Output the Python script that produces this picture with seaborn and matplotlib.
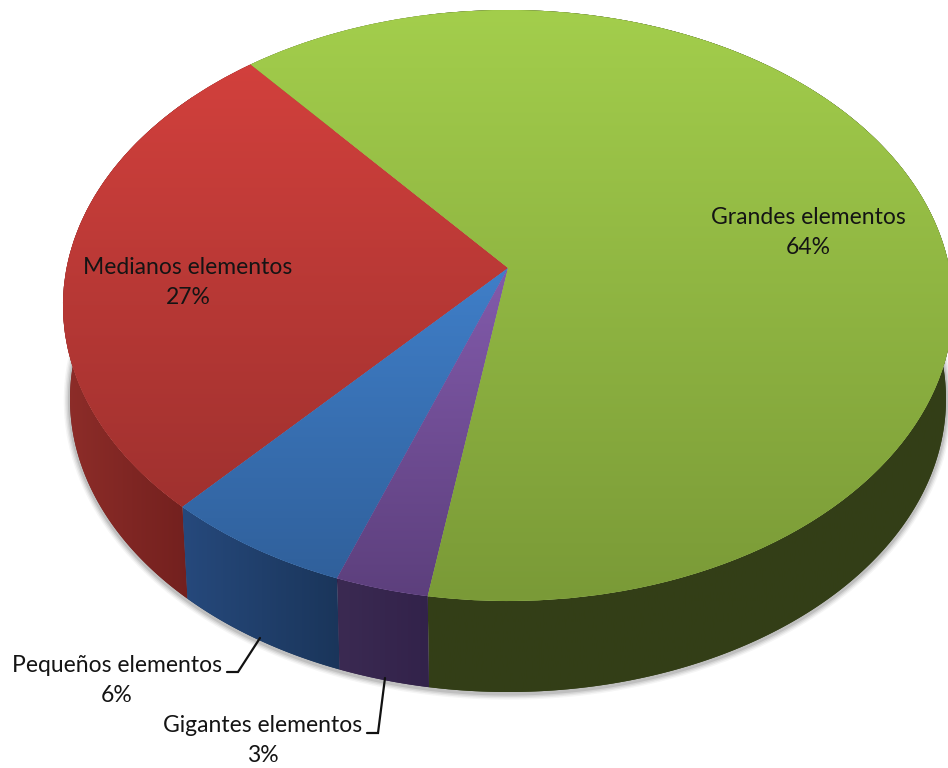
import numpy as np
import matplotlib
matplotlib.use("Agg")
import matplotlib.pyplot as plt
from matplotlib.transforms import Transform
import seaborn as sns

categories = ["Medianos elementos", "Pequeños elementos", "Gigantes elementos", "Grandes elementos"]
values = [27.3, 6.1, 3.0, 63.6]

sns.set_theme(style="white")
plt.rcParams["font.family"] = ["Lato", "DejaVu Sans"]

# geometry of the tilted disc, in image pixels
TOP = dict(cx=508.0, cy=305.5, rx=445.0, ry=295.5)
BOTTOM = dict(cx=508.0, cy=399.0, rx=438.0, ry=293.0)
C = (305.5 - 268.0) / 295.5
START = 129.8


def project(x, y, cx, cy, rx, ry):
    d = 1 + C * y
    xn = x * np.sqrt(1 - C ** 2) / d
    yn = (y + C) / d
    return cx + rx * xn, cy - ry * yn


class Tilt(Transform):
    input_dims = 2
    output_dims = 2
    is_separable = False
    has_inverse = False

    def transform_non_affine(self, pts):
        pts = np.asarray(pts, float)
        px, py = project(pts[:, 0], pts[:, 1], **TOP)
        return np.column_stack([px, py])


top_style = {
    "Medianos elementos": ("#D8423E", "#952E2C", 10, 601),
    "Pequeños elementos": ("#4C98EE", "#2F5E98", 10, 601),
    "Gigantes elementos": ("#A070D0", "#5C3F7C", 10, 601),
    "Grandes elementos": ("#A3CE4C", "#7A9A37", 10, 601),
}
wall_style = {
    "Medianos elementos": ("#8E2D29", "#72201E", 63, 192),
    "Pequeños elementos": ("#26497C", "#1A355A", 183, 342),
    "Gigantes elementos": ("#3B2A52", "#32224A", 338, 432),
    "Grandes elementos": ("#343F17", "#333E17", 429, 948),
}
label_pos = {
    "Medianos elementos": (188, 267, 298),
    "Pequeños elementos": (117, 666, 696),
    "Gigantes elementos": (263, 725, 756),
    "Grandes elementos": (808, 217, 248),
}
leaders = {
    "Pequeños elementos": ([227, 238, 260], [672, 672, 638]),
    "Gigantes elementos": ([367, 378, 385], [733, 733, 678]),
}

fig = plt.figure(figsize=(9.48, 7.68), dpi=100, facecolor="white")
ax = fig.add_axes([0, 0, 1, 1])

mid = [sns.blend_palette(top_style[c][:2], 3)[1] for c in categories]
wedges, _ = ax.pie(values, startangle=START, counterclock=True, colors=mid, radius=1, center=(0, 0))
tilt = Tilt() + ax.transData
grad_v = np.linspace(0, 1, 256).reshape(-1, 1)
grad_h = np.linspace(0, 1, 256).reshape(1, -1)

# soft shadow under the lower rim
t = np.radians(np.linspace(150, 390, 400))
sx, sy = project(np.cos(t), np.sin(t), **BOTTOM)
for lw, a in zip([9, 7, 5, 3], [0.05, 0.08, 0.10, 0.14]):
    ax.plot(sx, sy + 1.5, color="#404040", lw=lw, alpha=a, zorder=1, solid_capstyle="round")

# side wall and top of every slice, from the slice values
edges = START + 3.6 * np.concatenate([[0], np.cumsum(values)])
for i, (name, w) in enumerate(zip(categories, wedges)):
    th = np.radians(np.linspace(edges[i], edges[i + 1], 300))
    xt, yt = project(np.cos(th), np.sin(th), **TOP)
    xb, yb = project(np.cos(th), np.sin(th), **BOTTOM)
    c1, c2, x0, x1 = wall_style[name]
    poly = ax.fill(np.r_[xt, xb[::-1]], np.r_[yt, yb[::-1]], color=c2, lw=0, zorder=2)[0]
    im = ax.imshow(grad_h, extent=(x0, x1, 768, 0), aspect="auto", zorder=2.1,
                   cmap=sns.blend_palette([c1, c2], as_cmap=True))
    im.set_clip_path(poly)

    c1, c2, y0, y1 = top_style[name]
    w.set_transform(tilt)
    w.set_zorder(3)
    w.set_linewidth(0)
    im = ax.imshow(grad_v, extent=(0, 948, y1, y0), aspect="auto", zorder=3.1,
                   cmap=sns.blend_palette([c1, c2], as_cmap=True))
    im.set_clip_path(w)

for name, v in zip(categories, values):
    x, y1, y2 = label_pos[name]
    ax.text(x, y1, name, ha="center", va="center", fontsize=16.5, color="#141414", zorder=6)
    ax.text(x, y2, f"{v:.0f}%", ha="center", va="center", fontsize=16.5, color="#141414", zorder=6)
    if name in leaders:
        ax.plot(*leaders[name], color="#111111", lw=1.6, zorder=5, solid_joinstyle="miter")

ax.set_aspect("auto")
ax.set_xlim(0, 948)
ax.set_ylim(768, 0)
ax.axis("off")
fig.savefig("out.png", dpi=100, facecolor="white")
